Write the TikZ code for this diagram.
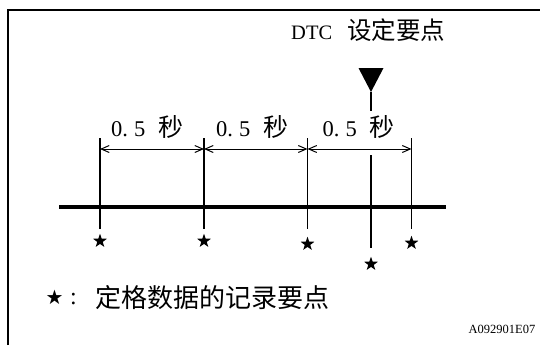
\documentclass[tikz,border=0pt]{standalone}
\usepackage{fontspec}
\setmainfont{Liberation Serif}
\newfontfamily\cjk{Noto Sans CJK SC}
\newfontfamily\sym{DejaVu Sans}
\usetikzlibrary{arrows.meta,shapes.geometric}
\newcommand\halfsec{{\fontsize{22.5}{22.5}\selectfont 0.\hspace{6pt}5\hspace{13pt}{\cjk\fontsize{25}{25}\selectfont 秒}}}
\begin{document}
\begin{tikzpicture}[x=1pt,y=-1pt,
  frame/.style={line width=1.8pt},
  axis/.style={line width=3.3pt},
  tick/.style={line width=1.1pt},
  dim/.style={line width=1pt,{Straight Barb[length=8pt,width=7pt]}-{Straight Barb[length=8pt,width=7pt]}},
  starmark/.style={star,star points=5,star point ratio=2.5,fill=black,inner sep=0pt,minimum size=14.5pt},
  lbl/.style={inner sep=0pt,anchor=base west}]
\useasboundingbox (0,0) rectangle (540,345);
% frame
\coordinate (fb) at (7.8,345);
\coordinate (ft) at (7.8,10);
\coordinate (fr) at (540,10);
\draw[frame] (fb) -- (ft) -- (fr);
% timeline
\coordinate (a0) at (59,207);
\coordinate (a1) at (446,207);
\draw[axis] (a0) -- (a1);
% ticks
\coordinate (t1) at (100,138);
\coordinate (t2) at (204,138);
\coordinate (t3) at (307.5,138);
\coordinate (t5) at (411.5,138);
\coordinate (t4) at (371,155);
\coordinate (b1) at (100,229);
\coordinate (b2) at (204,229);
\coordinate (b3) at (307.5,229);
\coordinate (b5) at (411.5,229);
\coordinate (b4) at (371,248);
\foreach \i in {1,...,5} \draw[tick] (t\i) -- (b\i);
% dimension arrows
\coordinate (d1) at (100,149);
\coordinate (d2) at (204,149);
\coordinate (d3) at (307.5,149);
\coordinate (d4) at (411.5,149);
\draw[dim] (d1) -- (d2);
\draw[dim] (d2) -- (d3);
\draw[dim] (d3) -- (d4);
% labels
\node[lbl] (l1) at (111,136.5) {\halfsec};
\node[lbl] (l2) at (216,136.5) {\halfsec};
\node[lbl] (l3) at (322.5,136.5) {\halfsec};
% stars
\node[starmark] (s1) at (100,241) {};
\node[starmark] (s2) at (204,241) {};
\node[starmark] (s3) at (307.5,244) {};
\node[starmark] (s4) at (371,264) {};
\node[starmark] (s5) at (411.5,243) {};
% DTC marker
\coordinate (tr1) at (358.5,68);
\coordinate (tr2) at (383.5,68);
\coordinate (tr3) at (371,92);
\coordinate (st) at (371,111);
\fill (tr1) -- (tr2) -- (tr3) -- cycle;
\draw[tick] (tr3) -- (st);
\node[lbl] (dtc) at (291,40) {\fontsize{20.5}{20.5}\selectfont DTC\hspace{15pt}{\cjk\fontsize{24.5}{24.5}\selectfont 设定要点}};
% legend
\node[inner sep=0pt] (key) at (54.5,297) {\sym\fontsize{20}{20}\selectfont ★};
\node[inner sep=0pt] (col) at (73.5,299) {\fontsize{24}{24}\selectfont :};
\node[lbl] (leg) at (95,307) {\cjk\fontsize{26}{26}\selectfont 定格数据的记录要点};
\node[inner sep=0pt,anchor=base east] (code) at (535.5,333) {\fontsize{12.5}{12.5}\selectfont A092901E07};
\end{tikzpicture}
\end{document}
